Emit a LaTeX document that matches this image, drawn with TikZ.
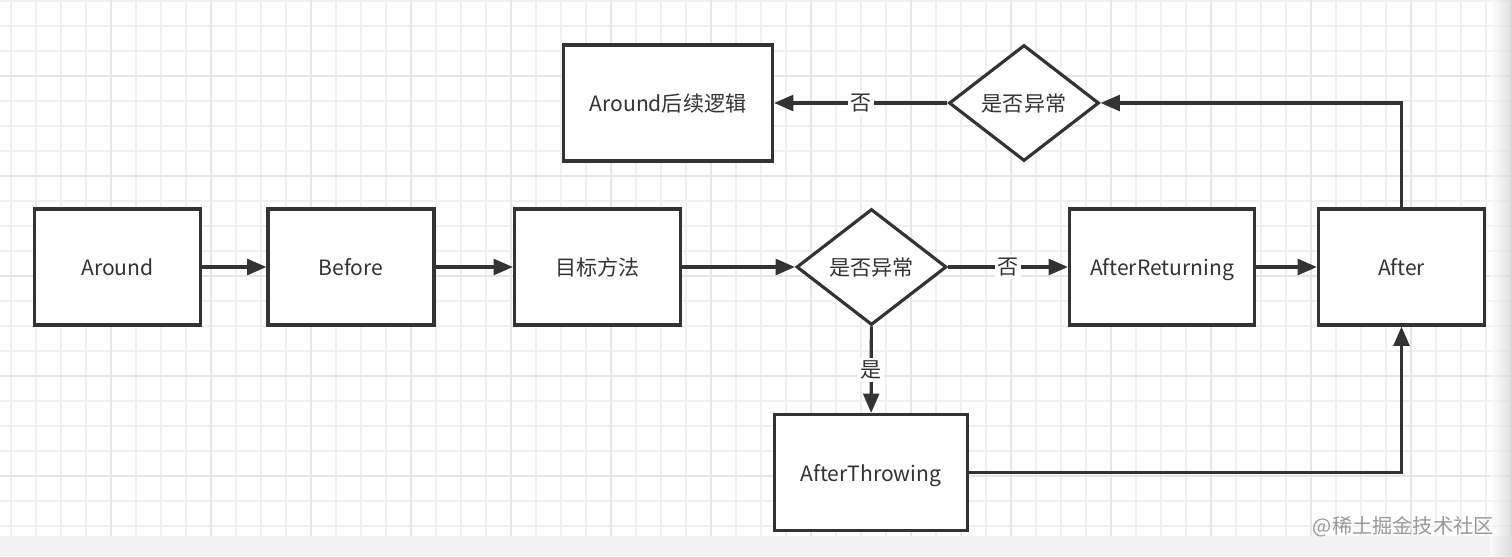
\documentclass[tikz,border=0pt]{standalone}
\usepackage{fontspec}
\setmainfont{Noto Sans CJK SC}
\usepackage{tikz}
\usetikzlibrary{positioning}
\usetikzlibrary{shapes.geometric}
\usetikzlibrary{arrows.meta}

\definecolor{linea}{HTML}{333333}
\definecolor{rejilla}{HTML}{F0F0F0}
\definecolor{rejillab}{HTML}{E6E6E6}

\begin{document}
\begin{tikzpicture}[x=0.02cm, y=-0.02cm,
    caja/.style={draw=linea, line width=1.8pt, fill=white, minimum width=3.32cm, minimum height=2.32cm, text=linea, text depth=0pt, font=\fontsize{12}{14}\selectfont},
    rombo/.style={draw=linea, diamond, line width=1.8pt, fill=white, minimum width=3.0cm, minimum height=2.32cm, inner sep=0pt, text=linea, font=\fontsize{12}{14}\selectfont},
    flecha/.style={-{Triangle[length=11pt,width=9pt]}, line width=1.8pt, draw=linea},
    etiqueta/.style={fill=white, inner sep=1.5pt, text=linea, font=\fontsize{12}{14}\selectfont}]
            \useasboundingbox (0,0) rectangle (1512,556);
            % Fondo
            \fill[white] (0,0) rectangle (1512,556);
            \foreach \x in {11,36,...,1511} \draw[rejilla, line width=0.6pt] (\x,0) -- (\x,556);
            \foreach \y in {1,26,...,556} \draw[rejilla, line width=0.6pt] (0,\y) -- (1512,\y);
            \foreach \x in {111,211,...,1511} \draw[rejillab, line width=0.8pt] (\x,0) -- (\x,556);
            \foreach \y in {76,176,...,556} \draw[rejillab, line width=0.8pt] (0,\y) -- (1512,\y);

            % Nodos
            \node[caja] (around) at (117.5,267) {Around};
            \node[caja] (before) at (351,267) {Before};
            \node[caja] (target) at (597.5,267) {目标方法};
            \node[rombo] (check) at (871.5,267) {是否异常};
            \node[caja, minimum width=3.7cm] (returning) at (1162,267) {AfterReturning};
            \node[caja] (after) at (1401.5,267) {After};
            \node[caja, minimum width=3.86cm] (throwing) at (871,472.5) {AfterThrowing};
            \node[rombo] (check2) at (1024,103) {是否异常};
            \node[caja, minimum width=4.18cm] (rest) at (668,103) {Around后续逻辑};

            % Aristas
            \draw[flecha] (around) -- (before);
            \draw[flecha] (before) -- (target);
            \draw[flecha] (target) -- (check);
            \draw[flecha] (check) -- node[etiqueta] {否} (returning);
            \draw[flecha] (returning) -- (after);
            \draw[flecha] (check) -- node[etiqueta] {是} (throwing);
            \draw[flecha] (throwing.east) -| (after.south);
            \draw[flecha] (after.north) |- (check2.east);
            \draw[flecha] (check2.west) -- node[etiqueta] {否} (rest.east);

            % Marca
            \fill[black!5] (0,536) rectangle (1512,556);
            \shade[left color=white, right color=black!20, opacity=0.6] (1490,0) rectangle (1512,556);
            \node[text=black!40, font=\fontsize{11.5}{13}\selectfont, anchor=east, inner sep=0pt] (marca) at (1494,527) {@稀土掘金技术社区};
\end{tikzpicture}
\end{document}
